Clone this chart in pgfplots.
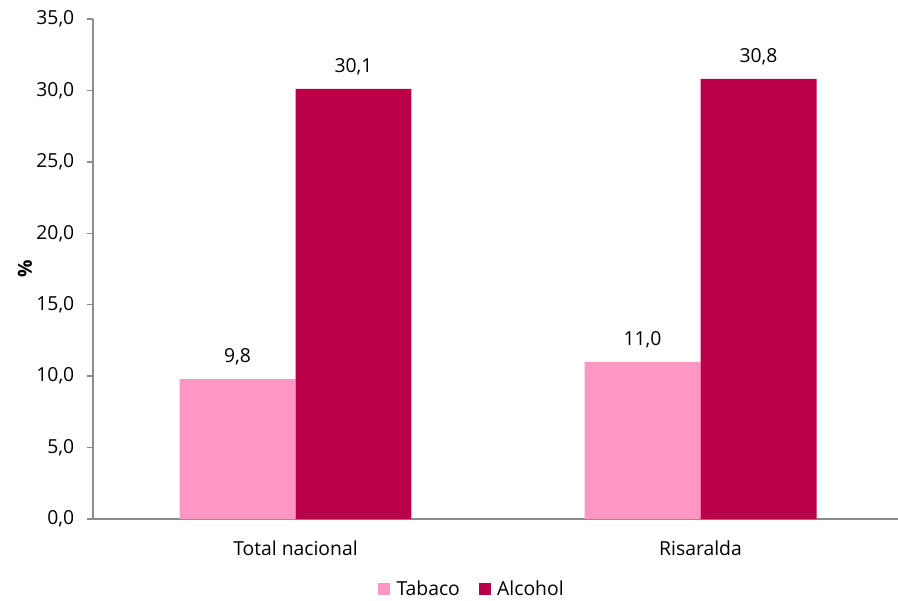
\documentclass[border=0pt]{standalone}
\usepackage{fontspec}
\setmainfont{Open Sans}
\usepackage{pgfplots}
\pgfplotsset{compat=1.18}
\definecolor{tabaco}{HTML}{FF96C3}
\definecolor{alcohol}{HTML}{BA0049}
\definecolor{axgray}{HTML}{8C8C8C}
\begin{document}
\begin{tikzpicture}
\useasboundingbox (-69.75pt,-60.75pt) rectangle (603.75pt,389.25pt);
\begin{axis}[
    at={(0pt,0pt)}, anchor=south west,
    scale only axis,
    width=607.5pt, height=375pt,
    xmin=-0.5, xmax=1.5,
    ymin=0, ymax=35,
    ybar=0pt, bar width=0.2864,
    ytick={0,5,...,35},
    xtick={0,1},
    xticklabels={Total nacional, Risaralda},
    extra x ticks={-0.5,0.5},
    extra x tick labels={},
    extra x tick style={major tick length=6pt, tick style={axgray, line width=1pt}},
    x tick style={draw=none},
    axis x line*=bottom,
    axis y line*=left,
    axis line style={axgray, line width=1pt},
    y tick style={axgray, line width=1pt},
    major tick length=4.5pt,
    tick align=outside,
    font=\fontsize{14.5}{17}\selectfont,
    ticklabel style={font=\fontsize{14.5}{17}\selectfont},
    x tick label style={yshift=-8pt},
    yticklabel style={xshift=-6pt},
    /pgf/number format/assume math mode=true,
    yticklabel={\pgfmathprintnumber[fixed, fixed zerofill, precision=1, use comma]{\tick}},
    ylabel={\textbf{\%}},
    ylabel style={at={(axis description cs:-0.084,0.5)}, anchor=center},
    nodes near coords,
    nodes near coords style={font=\fontsize{14.5}{17}\selectfont, yshift=7pt,
        /pgf/number format/.cd, fixed, fixed zerofill, precision=1, use comma, assume math mode=true},
    legend columns=2,
    legend style={at={(0.468,-0.14)}, anchor=center, draw=none,
        font=\fontsize{14.5}{17}\selectfont,
        /tikz/every odd column/.append style={column sep=3pt},
        /tikz/every even column/.append style={column sep=12pt}},
    legend image code/.code={\fill[#1] (0pt,-4.5pt) rectangle (9pt,4.5pt);},
]
\addplot[fill=tabaco, draw=none]
    coordinates {(0,9.8) (1,11.0)};
\addplot[fill=alcohol, draw=none]
    coordinates {(0,30.1) (1,30.8)};
\legend{Tabaco, Alcohol}
\end{axis}
\end{tikzpicture}
\end{document}
